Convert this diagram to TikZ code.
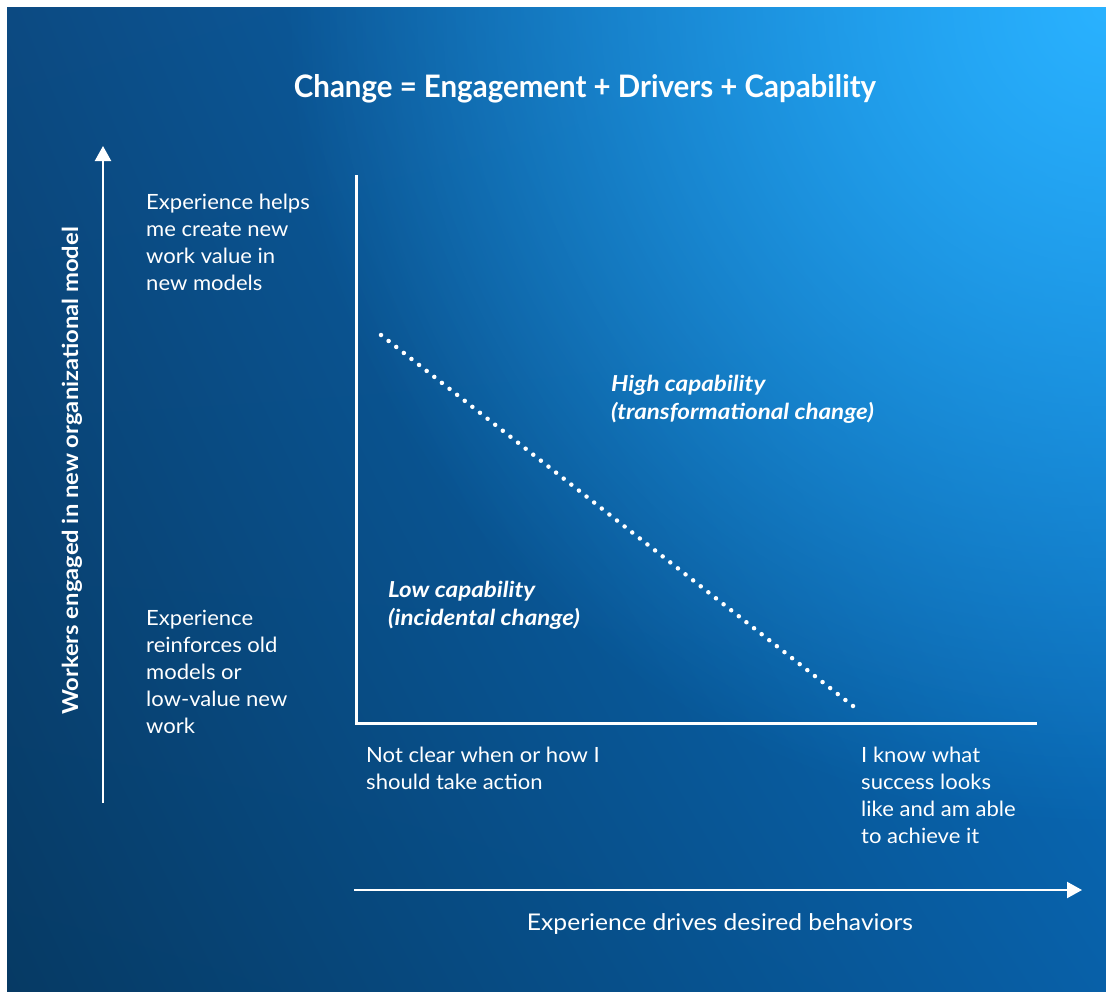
\documentclass[tikz,border=0pt]{standalone}
\usepackage{fontspec}
\setmainfont{Lato}
\usetikzlibrary{arrows.meta,shadings,fadings}
\definecolor{bgUL}{HTML}{0C4A82}
\definecolor{bgUR}{HTML}{0A78CC}
\definecolor{bgLL}{HTML}{063A64}
\definecolor{bgLR}{HTML}{0860A8}
\definecolor{glowc}{HTML}{2AB2FF}
\tikzfading[name=glowfade, inner color=transparent!0, outer color=transparent!100]
\newcommand\mylines[2]{\scalebox{#1}[1]{\begin{tabular}{@{}l@{}}#2\end{tabular}}}
\begin{document}
\begin{tikzpicture}[x=1pt,y=-1pt,
  body/.style={text=white,font=\fontsize{21}{27}\selectfont,inner sep=0pt,anchor=north west},
  emph/.style={text=white,font=\fontsize{22}{28}\selectfont\bfseries\itshape,inner sep=0pt,anchor=north west},
  axisline/.style={white,line width=3pt},
  bigarrow/.style={white,line width=2.2pt,-{Triangle[width=16pt,length=15pt]}},
  dots/.style={white,line width=4.5pt,line cap=round,dash pattern=on 0pt off 9.683pt}]
\useasboundingbox (0,0) rectangle (1106,991);
\fill[white] (0,0) rectangle (1106,991);
\shade[upper left=bgUL,upper right=bgUR,lower left=bgLL,lower right=bgLR] (7,7) rectangle (1106,991);
\begin{scope}
\clip (7,7) rectangle (1106,991);
\fill[glowc,path fading=glowfade] (1106,7) circle (820);
\end{scope}
% title
\node[text=white,font=\fontsize{31}{36}\selectfont\bfseries,anchor=base,inner sep=0pt] (title) at (585,97) {\scalebox{0.95}[1]{Change = Engagement + Drivers + Capability}};
% outer arrows
\coordinate (ys) at (103,803);
\coordinate (ye) at (103,146);
\draw[bigarrow] (ys) -- (ye);
\coordinate (xs) at (354,890);
\coordinate (xe) at (1082,890);
\draw[bigarrow] (xs) -- (xe);
\node[text=white,font=\fontsize{22}{26}\selectfont\bfseries,rotate=90,anchor=base,inner sep=0pt] (ylab) at (78,471) {\scalebox{1.08}[1]{Workers engaged in new organizational model}};
\node[text=white,font=\fontsize{23}{26}\selectfont,anchor=base,inner sep=0pt] (xlab) at (720,930) {\scalebox{1.07}[1]{Experience drives desired behaviors}};
% chart axes
\coordinate (o) at (356,723);
\coordinate (top) at (356,175);
\coordinate (right) at (1037,723);
\draw[axisline] (top) -- (o) -- (right);
% dotted line
\coordinate (d1) at (381,335);
\coordinate (d2) at (853,706);
\draw[dots] (d1) -- (d2);
% texts
\node[body] (hi) at (146,190) {\mylines{1.05}{Experience helps\\me create new\\work value in\\new models}};
\node[body] (lo) at (146,606) {\mylines{1.05}{Experience\\reinforces old\\models or\\low-value new\\work}};
\node[body] (nc) at (366,743) {\mylines{1.05}{Not clear when or how I\\should take action}};
\node[body] (ik) at (861,743) {\mylines{1.05}{I know what\\success looks\\like and am able\\to achieve it}};
\node[emph] (lc) at (388,578) {\mylines{1.1}{Low capability\\(incidental change)}};
\node[emph] (hc) at (611,372) {\mylines{1.1}{High capability\\(transformational change)}};
\end{tikzpicture}
\end{document}
